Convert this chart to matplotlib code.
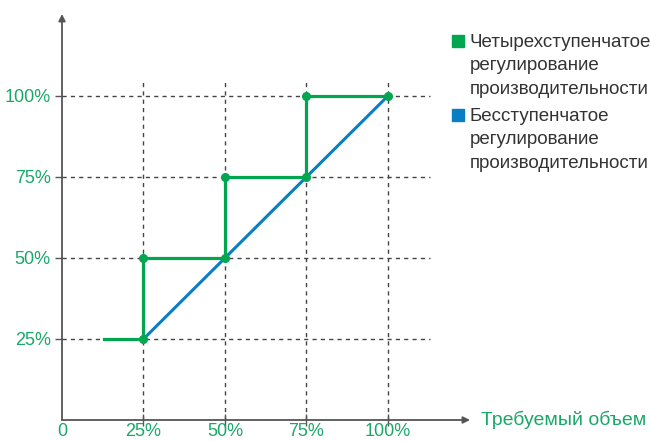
import matplotlib.pyplot as plt

# load levels, %
ticks = [25, 50, 75, 100]
tick_labels = ['25%', '50%', '75%', '100%']

# four-step control: required volume -> delivered capacity
step_x = [13, 25, 25, 50, 50, 75, 75, 100]
step_y = [25, 25, 50, 50, 75, 75, 100, 100]
dot_x = [25, 25, 50, 50, 75, 75, 100]
dot_y = [25, 50, 50, 75, 75, 100, 100]

# stepless control
lin_x = [25, 100]
lin_y = [25, 100]

GREEN = '#00a650'
BLUE = '#0a7ec4'
LABEL_GREEN = '#1aa86a'
AXIS = '#555555'

plt.rcParams['font.family'] = ['Liberation Sans', 'DejaVu Sans']

fig = plt.figure(figsize=(6.51, 4.41), dpi=100)
ax = fig.add_axes([62 / 651, 21 / 441, (470 - 62) / 651, (420 - 14) / 441])
ax.set_xlim(0, 125.2)
ax.set_ylim(0, 125.3)
for s in ax.spines.values():
    s.set_visible(False)

# dashed guide lines
for t in ticks:
    ax.plot([0, 113], [t, t], color='#444444', lw=1, ls=(0, (3, 3)), zorder=1)
    ax.plot([t, t], [0, 105], color='#444444', lw=1, ls=(0, (3, 3)), zorder=1)

ax.plot(lin_x, lin_y, color=BLUE, lw=2.2, zorder=3)
ax.plot(step_x, step_y, color=GREEN, lw=2.3, zorder=4, solid_joinstyle='miter')
ax.plot(dot_x, dot_y, 'o', color=GREEN, ms=5.5, zorder=5)

# axes with arrows
arrow = dict(arrowstyle='-|>', color=AXIS, lw=1.3, mutation_scale=10,
             shrinkA=0, shrinkB=0)
ax.annotate('', xy=(1, 0), xycoords='axes fraction', xytext=(0, 0), arrowprops=arrow)
ax.annotate('', xy=(0, 1), xycoords='axes fraction', xytext=(0, 0), arrowprops=arrow)

ax.set_xticks([0] + ticks)
ax.set_xticklabels(['0'] + tick_labels)
ax.set_yticks(ticks)
ax.set_yticklabels(tick_labels)
ax.tick_params(axis='x', direction='inout', length=8, width=1, color=AXIS,
               labelcolor=LABEL_GREEN, labelsize=13, pad=-1.5)
ax.tick_params(axis='y', direction='out', length=5, width=1, color=AXIS,
               labelcolor=LABEL_GREEN, labelsize=13, pad=3)
ax.xaxis.get_major_ticks()[0].tick1line.set_visible(False)

ax.text(481 / 651, 1 - 420 / 441, 'Требуемый объем', transform=fig.transFigure,
        color=LABEL_GREEN, fontsize=14, va='center', ha='left')

# legend
legend_items = [
    (GREEN, 'Четырехступенчатое\nрегулирование\nпроизводительности', 44),
    (BLUE, 'Бесступенчатое\nрегулирование\nпроизводительности', 118),
]
for color, label, ypx in legend_items:
    fig.patches.append(plt.Rectangle((452 / 651, 1 - (ypx + 3) / 441), 12 / 651, 12 / 441,
                                     transform=fig.transFigure, color=color))
    fig.text(470 / 651, 1 - (ypx - 10) / 441, label, color='#333333', fontsize=13.5,
             va='top', ha='left', linespacing=1.5)

fig.savefig('out.png', dpi=100)
